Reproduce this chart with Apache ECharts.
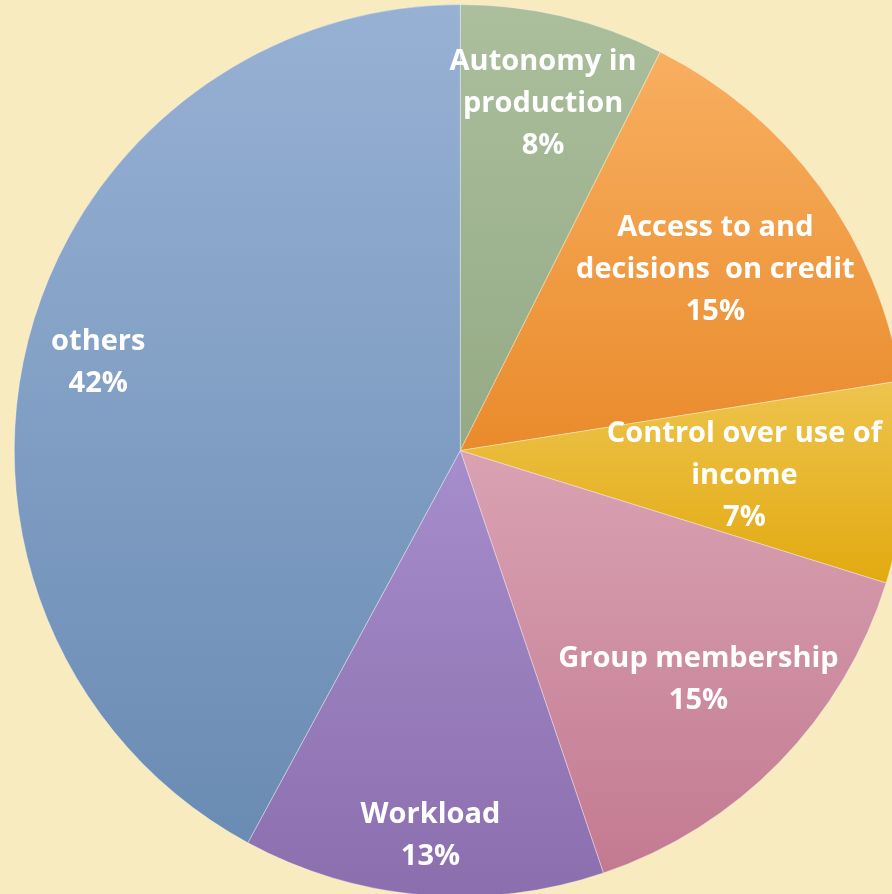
<!DOCTYPE html>
<html>
<head>
<meta charset="utf-8">
<script src="https://cdn.jsdelivr.net/npm/echarts@6/dist/echarts.min.js"></script>
<style>
  html, body { margin: 0; padding: 0; background: #F8EBC0; }
  #chart { width: 892px; height: 894px; }
</style>
</head>
<body>
<div id="chart"></div>
<script>
// Categories (label line breaks as shown in the picture)
const categories = [
  'Autonomy in\nproduction',
  'Access to and\ndecisions  on credit',
  'Control over use of\nincome',
  'Group membership',
  'Workload',
  'others'
];
// Slice sizes
const values = [7.4, 15.1, 7.3, 15.0, 13.1, 42.1];
// Percent labels as printed in the picture
const percentLabels = ['8%', '15%', '7%', '15%', '13%', '42%'];

// Styles (kept apart from data)
const topColors    = ['#ABBF9D', '#F8AF60', '#EEC44E', '#D9A2B3', '#A68DCB', '#97B1D4'];
const bottomColors = ['#94A984', '#E98B2C', '#E2AA10', '#C37A91', '#8B6EAD', '#6A8BB3'];
// label placement: fraction of radius, and angle nudge (degrees) from the slice's mid-angle
const labelRadiusRatio = [0.806, 0.705, 0.639, 0.736, 0.859, 0.837];
const labelAngleNudge  = [0, 0.4, 0.3, -0.8, -0.4, -0.1];
const labelDown = 3;

const chart = echarts.init(document.getElementById('chart'), null, { renderer: 'canvas' });

const centerPct = [51.6, 50.4];

const seriesData = categories.map((name, i) => ({
  name: name,
  value: values[i],
  itemStyle: {
    color: new echarts.graphic.LinearGradient(0, 0, 0, 1, [
      { offset: 0, color: topColors[i] },
      { offset: 1, color: bottomColors[i] }
    ])
  }
}));

chart.setOption({
  backgroundColor: '#F8EBC0',
  animation: false,
  series: [{
    type: 'pie',
    center: [centerPct[0] + '%', centerPct[1] + '%'],
    radius: '100%',
    startAngle: 90,
    clockwise: true,
    data: seriesData,
    itemStyle: {
      borderColor: 'rgba(255,255,255,0.35)',
      borderWidth: 1
    },
    label: {
      show: true,
      position: 'inside',
      color: '#FFFFFF',
      fontFamily: 'Open Sans',
      fontWeight: 'bold',
      fontSize: 29,
      lineHeight: 42,
      align: 'center',
      formatter: function (p) {
        return p.name + '\n' + percentLabels[p.dataIndex];
      }
    },
    labelLine: { show: false },
    labelLayout: function (params) {
      const w = chart.getWidth(), h = chart.getHeight();
      const cx = w * centerPct[0] / 100;
      const cy = h * centerPct[1] / 100;
      const R = Math.min(w, h) / 2;
      const r = params.labelRect;
      const lx = r.x + r.width / 2;
      const ly = r.y + r.height / 2;
      const i = params.dataIndex;
      const a = Math.atan2(ly - cy, lx - cx) + labelAngleNudge[i] * Math.PI / 180;
      const k = labelRadiusRatio[i] * R;
      return {
        dx: cx + Math.cos(a) * k - lx,
        dy: cy + Math.sin(a) * k - ly + labelDown
      };
    }
  }]
});
</script>
</body>
</html>
